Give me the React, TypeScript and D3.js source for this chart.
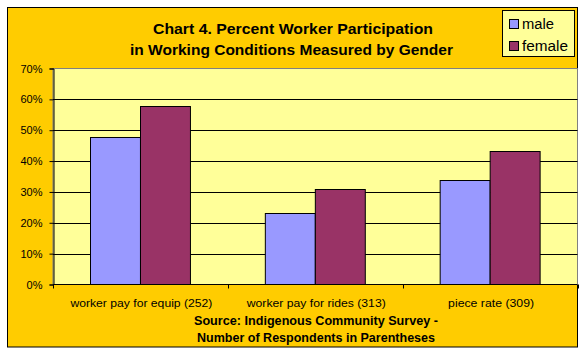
import React, { useEffect, useRef } from 'react';
import * as d3 from 'd3';

const categories = ['worker pay for equip (252)', 'worker pay for rides (313)', 'piece rate (309)'];
const seriesNames = ['male', 'female'];
const maleValues = [0.478, 0.233, 0.34];
const femaleValues = [0.577, 0.308, 0.434];
const yTicks = [0, 0.1, 0.2, 0.3, 0.4, 0.5, 0.6, 0.7];
const titleLines = ['Chart 4. Percent Worker Participation', 'in Working Conditions Measured by Gender'];
const sourceLines = ['Source: Indigenous Community Survey -', 'Number of Respondents in Parentheses'];

const colors = ['#9999FF', '#993366'];
const font = '"Liberation Sans", Arial, sans-serif';

export default function App() {
  const svgRef = useRef<SVGSVGElement>(null);

  useEffect(() => {
    const svg = d3.select(svgRef.current);
    svg.selectAll('*').remove();

    const plot = { left: 53, right: 577.5, top: 68.5, bottom: 284.5 };

    // chart box
    svg.append('rect')
      .attr('x', 7.5).attr('y', 7.5)
      .attr('width', 570).attr('height', 339.5)
      .attr('fill', '#FFCC00')
      .attr('stroke', '#000');

    const x = d3.scaleBand<string>()
      .domain(categories)
      .range([plot.left, plot.right]);

    // gap width 150% like excel
    const bw = x.bandwidth() / 3.5;
    const xs = d3.scaleBand<string>()
      .domain(seriesNames)
      .range([bw * 0.75, bw * 2.75]);

    const y = d3.scaleLinear()
      .domain([0, 0.7])
      .range([plot.bottom, plot.top]);

    svg.append('rect')
      .attr('x', plot.left).attr('y', plot.top)
      .attr('width', plot.right - plot.left).attr('height', plot.bottom - plot.top)
      .attr('fill', '#FFFF99')
      .attr('stroke', '#808080');

    // gridlines
    svg.append('g')
      .selectAll('line')
      .data(yTicks.slice(1, -1))
      .join('line')
      .attr('x1', plot.left).attr('x2', plot.right)
      .attr('y1', d => Math.round(y(d)) + 0.5).attr('y2', d => Math.round(y(d)) + 0.5)
      .attr('stroke', '#000');

    const data = categories.map((c, i) => ({ c, vals: [maleValues[i], femaleValues[i]] }));

    svg.append('g')
      .selectAll('g')
      .data(data)
      .join('g')
      .attr('transform', d => `translate(${x(d.c)},0)`)
      .selectAll('rect')
      .data(d => d.vals.map((v, k) => ({ v, k })))
      .join('rect')
      .attr('x', d => Math.round(xs(seriesNames[d.k])!) + 0.5)
      .attr('y', d => Math.round(y(d.v)) + 0.5)
      .attr('width', xs.bandwidth())
      .attr('height', d => plot.bottom - Math.round(y(d.v)) - 0.5)
      .attr('fill', d => colors[d.k])
      .attr('stroke', '#000');

    // axes
    const yAxis = d3.axisLeft(y)
      .tickValues(yTicks)
      .tickSize(4)
      .tickFormat(d3.format('.0%'));

    const gy = svg.append('g')
      .attr('transform', `translate(${plot.left + 0.5},0)`)
      .call(yAxis);
    gy.select('.domain').attr('stroke', '#000');
    gy.selectAll('line').attr('stroke', '#000');
    gy.selectAll('text')
      .attr('x', -11)
      .attr('font-family', font)
      .attr('font-size', 11)
      .attr('fill', '#000');

    const gx = svg.append('g')
      .attr('transform', `translate(0,${plot.bottom})`);
    gx.append('line')
      .attr('x1', plot.left).attr('x2', plot.right)
      .attr('stroke', '#000');
    gx.selectAll('line.tick')
      .data([...categories.map(c => x(c)!), plot.right])
      .join('line')
      .attr('class', 'tick')
      .attr('x1', d => Math.round(d) + 0.5).attr('x2', d => Math.round(d) + 0.5)
      .attr('y1', 0).attr('y2', 4)
      .attr('stroke', '#000');

    const catWidths = [142, 139, 86];
    gx.selectAll('text')
      .data(categories)
      .join('text')
      .attr('x', d => x(d)! + x.bandwidth() / 2 + 1)
      .attr('y', 22.5)
      .attr('text-anchor', 'middle')
      .attr('font-family', font)
      .attr('font-size', 11.5)
      .attr('textLength', (d, i) => catWidths[i])
      .attr('lengthAdjust', 'spacingAndGlyphs')
      .text(d => d);

    // source
    const srcWidths = [244, 238];
    svg.append('g')
      .selectAll('text')
      .data(sourceLines)
      .join('text')
      .attr('x', 316)
      .attr('y', (d, i) => 325 + i * 16.5)
      .attr('text-anchor', 'middle')
      .attr('font-family', font)
      .attr('font-size', 12)
      .attr('font-weight', 'bold')
      .attr('textLength', (d, i) => srcWidths[i])
      .attr('lengthAdjust', 'spacingAndGlyphs')
      .text(d => d);

    // title
    const titleWidths = [280, 323];
    svg.append('g')
      .selectAll('text')
      .data(titleLines)
      .join('text')
      .attr('x', (d, i) => [293, 291.5][i])
      .attr('y', (d, i) => 34 + i * 20.5)
      .attr('text-anchor', 'middle')
      .attr('font-family', font)
      .attr('font-size', 15)
      .attr('font-weight', 'bold')
      .attr('textLength', (d, i) => titleWidths[i])
      .attr('lengthAdjust', 'spacingAndGlyphs')
      .text(d => d);

    // legend
    const legend = svg.append('g');
    legend.append('rect')
      .attr('x', 502.5).attr('y', 10.5)
      .attr('width', 72).attr('height', 46)
      .attr('fill', '#FFFF99')
      .attr('stroke', '#000');
    const items = legend.selectAll('g.item')
      .data(seriesNames)
      .join('g')
      .attr('class', 'item')
      .attr('transform', (d, i) => `translate(0,${i * 22})`);
    items.append('rect')
      .attr('x', 509.5).attr('y', 19.5)
      .attr('width', 9).attr('height', 9)
      .attr('fill', (d, i) => colors[i])
      .attr('stroke', '#000');
    items.append('text')
      .attr('x', 522)
      .attr('y', 28.5)
      .attr('font-family', font)
      .attr('font-size', 14)
      .attr('textLength', (d, i) => [32, 46][i])
      .attr('lengthAdjust', 'spacingAndGlyphs')
      .text(d => d);
  }, []);

  return (
    <svg ref={svgRef} width={586} height={355}
      style={{ position: 'absolute', left: 0, top: 0, background: '#fff' }} />
  );
}
